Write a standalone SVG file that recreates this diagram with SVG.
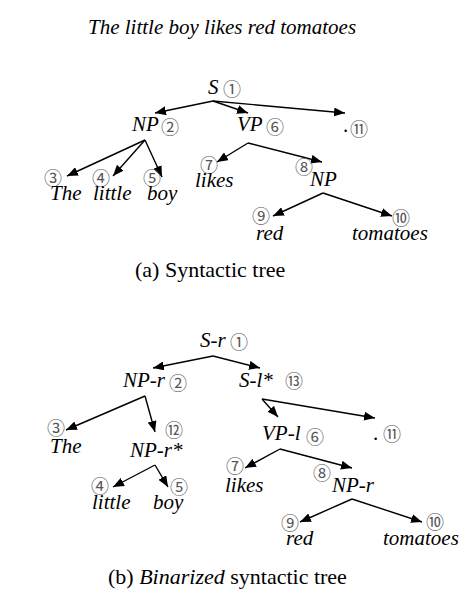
<svg xmlns="http://www.w3.org/2000/svg" width="474" height="592" viewBox="0 0 474 592">
<defs>
<style>
.t{font-family:"Liberation Serif","Times New Roman",serif;font-size:21px;font-style:italic;fill:#000}
.r{font-style:normal}
.cap{font-family:"Liberation Serif","Times New Roman",serif;font-size:22px;fill:#000}
.n{font-family:"Noto Sans CJK JP","Noto Sans CJK SC",sans-serif;font-size:18px;fill:#555;dominant-baseline:central}
.e{stroke:#000;stroke-width:1.4;fill:none;marker-end:url(#ah)}
</style>
<marker id="ah" markerUnits="userSpaceOnUse" markerWidth="11" markerHeight="9" refX="11" refY="4.5" orient="auto">
<path d="M0,0 L11,4.5 L0,9 z" fill="#000"/>
</marker>
</defs>
<rect width="474" height="592" fill="#fff"/>
<text class="t" x="88" y="34" font-size="22">The little boy likes red tomatoes</text>

<g id="connectors">
<line class="e" x1="213" y1="101" x2="155" y2="113"/>
<line class="e" x1="213" y1="101" x2="248" y2="113"/>
<line class="e" x1="213" y1="101" x2="345" y2="113"/>
<line class="e" x1="145" y1="140" x2="67" y2="176"/>
<line class="e" x1="145" y1="140" x2="113" y2="176"/>
<line class="e" x1="145" y1="140" x2="162" y2="177"/>
<line class="e" x1="248" y1="143" x2="217" y2="162"/>
<line class="e" x1="248" y1="143" x2="322" y2="162"/>
<line class="e" x1="323" y1="193" x2="273" y2="216"/>
<line class="e" x1="323" y1="193" x2="392" y2="216"/>

<line class="e" x1="213" y1="356" x2="153" y2="368"/>
<line class="e" x1="213" y1="356" x2="260" y2="368"/>
<line class="e" x1="145" y1="396" x2="66" y2="430"/>
<line class="e" x1="145" y1="396" x2="155" y2="432"/>
<line class="e" x1="155" y1="465" x2="113" y2="487"/>
<line class="e" x1="155" y1="465" x2="168" y2="487"/>
<line class="e" x1="262" y1="399" x2="278" y2="417"/>
<line class="e" x1="262" y1="399" x2="375" y2="418"/>
<line class="e" x1="280" y1="449" x2="245" y2="468"/>
<line class="e" x1="280" y1="449" x2="352" y2="468"/>
<line class="e" x1="352" y1="499" x2="300" y2="522"/>
<line class="e" x1="352" y1="499" x2="422" y2="522"/>
</g>

<!-- Tree (a) -->
<g id="a-S"><text class="t" x="208" y="94">S</text><text class="n" x="223" y="88">①</text></g>
<g id="a-NP"><text class="t" x="132" y="131">NP</text><text class="n" x="161" y="126">②</text></g>
<g id="a-VP"><text class="t" x="237" y="131">VP</text><text class="n" x="266" y="126">⑥</text></g>
<g id="a-dot"><text class="t r" x="343" y="132">.</text><text class="n" x="350" y="128">⑪</text></g>
<g id="a-The"><text class="n" x="44" y="177">③</text><text class="t" x="50" y="200">The</text></g>
<g id="a-little"><text class="n" x="92" y="177">④</text><text class="t" x="93" y="200">little</text></g>
<g id="a-boy"><text class="n" x="143" y="177">⑤</text><text class="t" x="147" y="200">boy</text></g>
<g id="a-likes"><text class="n" x="200" y="164">⑦</text><text class="t" x="195" y="187">likes</text></g>
<g id="a-NP2"><text class="n" x="295" y="166">⑧</text><text class="t" x="310" y="186">NP</text></g>
<g id="a-red"><text class="n" x="252" y="215">⑨</text><text class="t" x="256" y="240">red</text></g>
<g id="a-tomatoes"><text class="n" x="392" y="217">⑩</text><text class="t" x="352" y="240">tomatoes</text></g>
<text class="cap" x="135" y="277">(a) Syntactic tree</text>

<!-- Tree (b) -->
<g id="b-Sr"><text class="t" x="200" y="347">S-r</text><text class="n" x="230" y="341">①</text></g>
<g id="b-NPr"><text class="t" x="123" y="387">NP-r</text><text class="n" x="169" y="382">②</text></g>
<g id="b-Sl"><text class="t" x="239" y="387">S-l*</text><text class="n" x="285" y="380">⑬</text></g>
<g id="b-The"><text class="n" x="47" y="427">③</text><text class="t" x="50" y="453">The</text></g>
<g id="b-NPr2"><text class="n" x="165" y="429">⑫</text><text class="t" x="130" y="457">NP-r*</text></g>
<g id="b-little"><text class="n" x="91" y="485">④</text><text class="t" x="92" y="509">little</text></g>
<g id="b-boy"><text class="n" x="170" y="486">⑤</text><text class="t" x="153" y="509">boy</text></g>
<g id="b-VPl"><text class="t" x="262" y="440">VP-l</text><text class="n" x="306" y="436">⑥</text></g>
<g id="b-dot"><text class="t r" x="373" y="440">.</text><text class="n" x="383" y="433">⑪</text></g>
<g id="b-likes"><text class="n" x="226" y="465">⑦</text><text class="t" x="225" y="492">likes</text></g>
<g id="b-NPr3"><text class="n" x="313" y="472">⑧</text><text class="t" x="332" y="492">NP-r</text></g>
<g id="b-red"><text class="n" x="281" y="522">⑨</text><text class="t" x="286" y="545">red</text></g>
<g id="b-tomatoes"><text class="n" x="426" y="521">⑩</text><text class="t" x="383" y="545">tomatoes</text></g>
<text class="cap" x="108" y="584">(b) <tspan font-style="italic">Binarized</tspan> syntactic tree</text>
</svg>
